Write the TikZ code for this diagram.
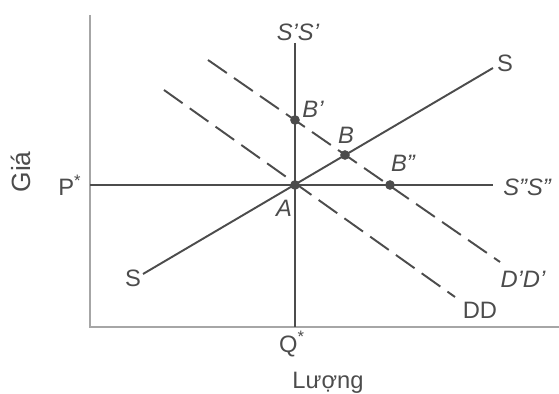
\documentclass[tikz,border=0pt]{standalone}
\usepackage{fontspec}
\setmainfont{Liberation Sans}
\usetikzlibrary{positioning}

\begin{document}
\begin{tikzpicture}[x=0.02cm,y=-0.02cm,
  every node/.style={text=black!70,font=\fontsize{13.5}{16}\selectfont},
  axis/.style={gray!70,line width=0.8pt},
  curve/.style={black!70,line width=1.1pt},
  shifted/.style={black!70,line width=1.1pt,dash pattern=on 13pt off 5pt},
  dot/.style={circle,fill=black!70,inner sep=0pt,minimum size=5.5pt}]
\useasboundingbox (0,0) rectangle (559,394);

% Axes
\coordinate (O) at (90,327);
\coordinate (Ytop) at (90,15);
\coordinate (Xend) at (559,327);
\draw[axis] (Ytop) -- (O) -- (Xend);
\node[rotate=90,font=\fontsize{15}{18}\selectfont] (gia) at (21,172) {Giá};
\node (luong) at (328,383) {Lượng};

% Vertical and horizontal supply
\coordinate (SVtop) at (295,43);
\coordinate (SVbot) at (295,327);
\coordinate (SHleft) at (90,185);
\coordinate (SHright) at (493,185);
\draw[curve] (SVtop) -- (SVbot);
\draw[curve] (SHleft) -- (SHright);
\node (pstar) at (70,185) {P\textsuperscript{*}};
\node (qstar) at (292,344) {Q\textsuperscript{*}};
\node (ss1) at (298,32) {\itshape S'S'};
\node (ss2) at (527,187) {\itshape S''S''};

% Supply S
\coordinate (S1) at (143,274);
\coordinate (S2) at (493,68);
\draw[curve] (S1) -- (S2);
\node (s1lab) at (133,278) {S};
\node (s2lab) at (505,63) {S};

% Demand curves
\coordinate (D1) at (164,90);
\coordinate (D2) at (455,297);
\coordinate (Dp1) at (208,60);
\coordinate (Dp2) at (500,262);
\draw[shifted] (D1) -- (D2);
\draw[shifted] (Dp1) -- (Dp2);
\node (ddlab) at (480,310) {DD};
\node (dpdlab) at (523,279) {\itshape D'D'};

% Equilibrium points
\node[dot] (A) at (295,185) {};
\node[dot] (B) at (345,155) {};
\node[dot] (Bp) at (295,120) {};
\node[dot] (Bpp) at (390,185) {};
\node (alab) at (284,208) {\itshape A};
\node (blab) at (346,135) {\itshape B};
\node (bplab) at (313,109) {\itshape B'};
\node (bpplab) at (403,163) {\itshape B''};
\end{tikzpicture}
\end{document}
